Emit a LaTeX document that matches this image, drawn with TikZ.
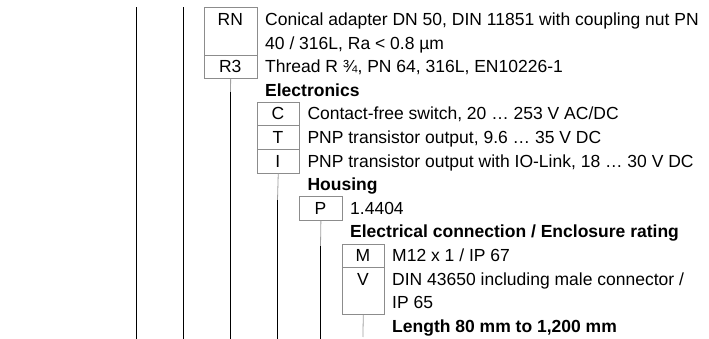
\documentclass[tikz,border=0pt]{standalone}
\usepackage{fontspec}
\setmainfont{Liberation Sans}
\newcommand\myfont{\fontsize{17.5}{21}\selectfont}
\definecolor{boxgray}{HTML}{8C8C8C}
\definecolor{conngray}{HTML}{A0A0A0}
\begin{document}
\begin{tikzpicture}[x=1pt,y=-1pt,
  cell/.style={draw=boxgray, line width=0.8pt, inner sep=0, anchor=north west},
  lbl/.style={anchor=base, inner sep=0, font=\myfont},
  txt/.style={anchor=base west, inner sep=0, font=\myfont},
  hd/.style={anchor=base west, inner sep=0, font=\myfont\bfseries},
  conn/.style={draw=conngray, line width=0.8pt},
  rule/.style={draw=black, line width=0.8pt}]
\useasboundingbox (0,0) rectangle (709,339);
% row grid: B_j = 7.5 + 23.6 j ; baseline = B_j + 18
% outer rules
\coordinate (ra1) at (136.5,7.5);
\coordinate (rb1) at (136.5,339);
\coordinate (ra2) at (183.3,7.5);
\coordinate (rb2) at (183.3,339);
\draw[rule] (ra1) -- (rb1);
\draw[rule] (ra2) -- (rb2);
% Process connection boxes
\node[cell, minimum width=52.5pt, minimum height=47.2pt] (rn) at (204,7.5) {};
\node[cell, minimum width=52.5pt, minimum height=23.6pt] (r3) at (204,54.7) {};
\node[lbl] (rnl) at (230.25,25.5) {RN};
\node[lbl] (r3l) at (230.25,72.7) {R3};
\node[txt] (t0) at (265,25.5) {Conical adapter DN 50, DIN 11851 with coupling nut PN};
\node[txt] (t1) at (265,49.1) {40 / 316L, Ra < 0.8 µm};
\node[txt] (t2) at (265,72.7) {Thread R ¾, PN 64, 316L, EN10226-1};
\node[hd] (h1) at (265,96.3) {Electronics};
% Electronics boxes
\node[cell, minimum width=42.7pt, minimum height=23.6pt] (c) at (256.5,101.9) {};
\node[cell, minimum width=42.7pt, minimum height=23.6pt] (t) at (256.5,125.5) {};
\node[cell, minimum width=42.7pt, minimum height=23.6pt] (i) at (256.5,149.1) {};
\node[lbl] (cl) at (277.85,119.9) {C};
\node[lbl] (tl) at (277.85,143.5) {T};
\node[lbl] (il) at (277.85,167.1) {I};
\node[txt] (t4) at (307.3,119.9) {Contact-free switch, 20 … 253 V AC/DC};
\node[txt] (t5) at (307.3,143.5) {PNP transistor output, 9.6 … 35 V DC};
\node[txt] (t6) at (307.3,167.1) {PNP transistor output with IO-Link, 18 … 30 V DC};
\node[hd] (h2) at (307.3,190.7) {Housing};
% Housing box
\node[cell, minimum width=42.6pt, minimum height=23.6pt] (p) at (299.2,196.3) {};
\node[lbl] (pl) at (320.5,214.3) {P};
\node[txt] (t8) at (350,214.3) {1.4404};
\node[hd] (h3) at (350,237.9) {Electrical connection / Enclosure rating};
% Electrical connection boxes
\node[cell, minimum width=42.8pt, minimum height=23.6pt] (m) at (341.5,243.5) {};
\node[cell, minimum width=42.8pt, minimum height=47.2pt] (v) at (341.5,267.1) {};
\node[lbl] (ml) at (362.9,261.5) {M};
\node[lbl] (vl) at (362.9,285.1) {V};
\node[txt] (t10) at (392,261.5) {M12 x 1 / IP 67};
\node[txt] (t11) at (392,285.1) {DIN 43650 including male connector /};
\node[txt] (t12) at (392,308.7) {IP 65};
\node[hd] (h4) at (392,332.3) {Length 80 mm to 1,200 mm};
% connectors
\coordinate (k1) at (230.5,92);
\coordinate (k1b) at (230.5,339);
\draw[conn] (r3.south) -- (k1);
\draw[rule] (k1) -- (k1b);
\coordinate (k2) at (277.5,200);
\coordinate (k2b) at (277.5,339);
\draw[conn] (i.south) -- (k2);
\draw[rule] (k2) -- (k2b);
\coordinate (k3) at (320.5,246);
\coordinate (k3b) at (320.5,339);
\draw[conn] (p.south) -- (k3);
\draw[rule] (k3) -- (k3b);
\coordinate (k4) at (362.9,337);
\draw[conn] (v.south) -- (k4);
\end{tikzpicture}
\end{document}
